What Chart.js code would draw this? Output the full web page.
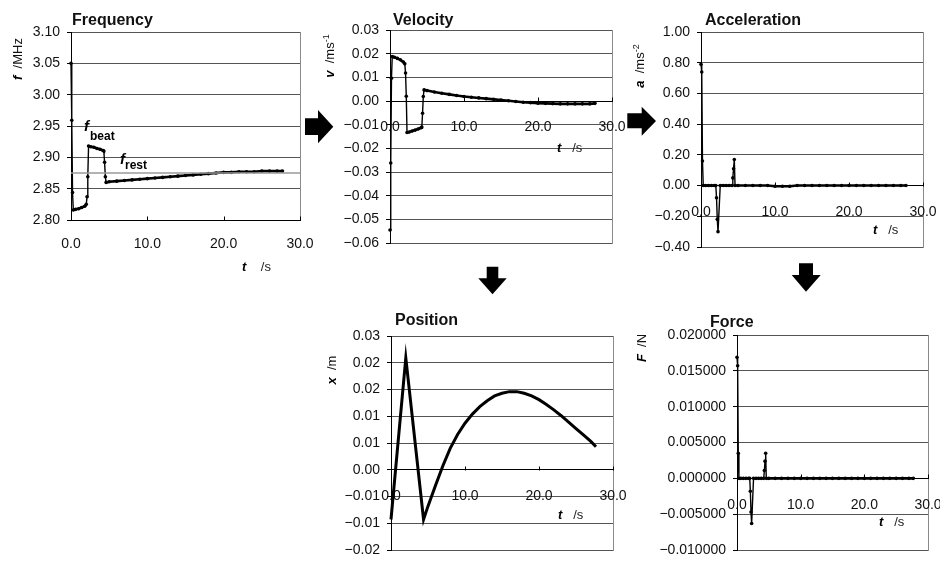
<!DOCTYPE html>
<html><head><meta charset="utf-8">
<script src="https://cdn.jsdelivr.net/npm/chart.js@4.4.1/dist/chart.umd.min.js"></script>
<style>
html,body{margin:0;padding:0;background:#fff;}
#wrap{position:relative;width:940px;height:561px;overflow:hidden;font-family:"Liberation Sans",Arial,sans-serif;color:#111;}
canvas{position:absolute;left:0;top:0;}
.title{position:absolute;font-weight:bold;font-size:16px;line-height:16px;white-space:nowrap;}
.ytitle{position:absolute;font-size:13px;line-height:14px;white-space:nowrap;transform:translate(-50%,-50%) rotate(-90deg);}
.xtitle{position:absolute;font-size:13px;line-height:14px;white-space:nowrap;color:#222;}
.v{font-weight:bold;font-style:italic;color:#000;}
sup{font-size:9px;vertical-align:5px;line-height:0;}
.ann{position:absolute;white-space:nowrap;color:#000;}
</style></head><body><div id="wrap">
<canvas id="cFreq" width="940" height="561"></canvas>
<canvas id="cVel" width="940" height="561"></canvas>
<canvas id="cAcc" width="940" height="561"></canvas>
<canvas id="cPos" width="940" height="561"></canvas>
<canvas id="cForce" width="940" height="561"></canvas>

<svg width="940" height="561" style="position:absolute;left:0;top:0">
<polygon fill="#000" points="305,118.3 318,118.3 318,110 333.3,126.7 318,143.3 318,135 305,135"/>
<polygon fill="#000" points="627.3,113.3 641.7,113.3 641.7,106.7 656,121 641.7,135.7 641.7,128.3 627.3,128.3"/>
<polygon fill="#000" points="486.7,266.7 498.3,266.7 498.3,278.3 506.7,278.3 492.5,294.3 478.3,278.3 486.7,278.3"/>
<polygon fill="#000" points="799,263.3 813,263.3 813,275 820.7,275 806,291.7 791.7,275 799,275"/>
</svg>

<div class="title" style="left:72px;top:12px">Frequency</div>
<div class="title" style="left:393px;top:12px">Velocity</div>
<div class="title" style="left:705px;top:12px">Acceleration</div>
<div class="title" style="left:395px;top:312px">Position</div>
<div class="title" style="left:710px;top:314px">Force</div>

<div class="ytitle" style="left:18px;top:59px"><span class="v">f</span>&nbsp;&nbsp;/MHz</div>
<div class="ytitle" style="left:330px;top:56px"><span class="v">v</span>&nbsp;&nbsp;/ms<sup>-1</sup></div>
<div class="ytitle" style="left:640px;top:66px"><span class="v">a</span>&nbsp;&nbsp;/ms<sup>-2</sup></div>
<div class="ytitle" style="left:332px;top:370px"><span class="v">x</span>&nbsp;&nbsp;/m</div>
<div class="ytitle" style="left:642px;top:348px"><span class="v">F</span>&nbsp;&nbsp;/N</div>

<div class="xtitle" style="left:242px;top:260px"><span class="v">t</span>&nbsp;&nbsp;&nbsp;&nbsp;/s</div>
<div class="xtitle" style="left:557px;top:141px"><span class="v">t</span>&nbsp;&nbsp;&nbsp;/s</div>
<div class="xtitle" style="left:873px;top:223px"><span class="v">t</span>&nbsp;&nbsp;&nbsp;/s</div>
<div class="xtitle" style="left:558px;top:508px"><span class="v">t</span>&nbsp;&nbsp;&nbsp;/s</div>
<div class="xtitle" style="left:879px;top:515px"><span class="v">t</span>&nbsp;&nbsp;&nbsp;/s</div>

<div class="ann" style="left:84px;top:118px;font:italic bold 15px 'Liberation Sans',Arial,sans-serif;line-height:15px">f</div>
<div class="ann" style="left:90px;top:130px;font:bold 12px 'Liberation Sans',Arial,sans-serif;line-height:12px">beat</div>
<div class="ann" style="left:120px;top:151px;font:italic bold 15px 'Liberation Sans',Arial,sans-serif;line-height:15px">f</div>
<div class="ann" style="left:125px;top:159px;font:bold 12px 'Liberation Sans',Arial,sans-serif;line-height:12px">rest</div>
</div>
<script>
// ---------------- data ----------------
const timeS = [0.0,0.1,0.2,0.3,0.6,1.0,1.4,1.8,2.0,2.1,2.2,2.3,2.6,3.0,3.4,3.8,4.2,4.3,4.4,4.5,4.6,5.0,6.0,7.0,8.0,9.0,10.0,11.0,12.0,13.0,14.0,15.0,16.0,17.0,18.0,19.0,20.0,21.0,22.0,23.0,24.0,25.0,26.0,27.0,27.7];
const freqMHz = [3.050,2.959,2.844,2.816,2.817,2.818,2.820,2.822,2.825,2.837,2.869,2.918,2.917,2.916,2.914,2.913,2.911,2.910,2.892,2.869,2.860,2.861,2.862,2.863,2.864,2.865,2.866,2.867,2.868,2.869,2.870,2.871,2.872,2.873,2.874,2.875,2.876,2.876,2.877,2.877,2.877,2.878,2.878,2.878,2.878];
const restTime = [0, 30];
const restFreq = [2.875, 2.875];
const velocity = [-0.0545,-0.0262,0.0096,0.0188,0.0185,0.0180,0.0174,0.0165,0.0157,0.0118,0.0020,-0.0133,-0.0131,-0.0127,-0.0123,-0.0118,-0.0113,-0.0110,-0.0052,0.0019,0.0047,0.0044,0.0038,0.0033,0.0028,0.0023,0.0019,0.0016,0.0013,0.0010,0.0007,0.0004,0.0001,-0.0002,-0.0005,-0.0007,-0.0009,-0.0010,-0.0011,-0.0012,-0.0012,-0.0012,-0.0012,-0.0012,-0.0010];
const accel = [0.79,0.74,0.16,0.00,0.00,0.00,0.00,0.00,0.00,-0.08,-0.22,-0.30,0.00,0.00,0.00,0.00,0.00,0.05,0.11,0.17,0.00,0.00,0.00,0.00,0.00,0.00,-0.004,-0.004,-0.004,0.00,0.00,0.00,0.00,0.00,0.00,0.00,0.00,0.00,0.00,0.00,0.00,0.00,0.00,0.00,0.00];
const force = [0.0169,0.0157,0.0035,0,0,0,0,0,0,-0.0018,-0.0047,-0.0063,0,0,0,0,0,0.0011,0.0024,0.0035,0,0,0,0,0,0,0,0,0,0,0,0,0,0,0,0,0,0,0,0,0,0,0,0,0];
const posTime = [0.0,2.0,4.4,5.0,6.0,7.0,8.0,9.0,10.0,11.0,12.0,13.0,14.0,15.0,16.0,17.0,18.0,19.0,20.0,21.0,22.0,23.0,24.0,25.0,26.0,27.0,27.7];
const posM = [-0.0093,0.0209,-0.0093,-0.0068,-0.0030,0.0007,0.0040,0.0066,0.0087,0.0104,0.0118,0.0129,0.0138,0.0143,0.0146,0.0146,0.0143,0.0138,0.0131,0.0122,0.0112,0.0101,0.0089,0.0077,0.0065,0.0053,0.0043];

const xTickLabels = ["0.0","10.0","20.0","30.0"];
const freqTicks = ["2.80","2.85","2.90","2.95","3.00","3.05","3.10"];
const velTicks = ["\u22120.06","\u22120.05","\u22120.04","\u22120.03","\u22120.02","\u22120.01","0.00","0.01","0.02","0.03"];
const accTicks = ["\u22120.40","\u22120.20","0.00","0.20","0.40","0.60","0.80","1.00"];
const posTicks = ["\u22120.02","\u22120.01","\u22120.01","0.00","0.01","0.01","0.02","0.02","0.03"];
const forceTicks = ["\u22120.010000","\u22120.005000","0.000000","0.005000","0.010000","0.015000","0.020000"];

// ---------------- helpers ----------------
Chart.defaults.font.family = "'Liberation Sans', Arial, sans-serif";
Chart.defaults.font.size = 14;
Chart.defaults.color = '#111';

const YW = 110;   // fixed y-axis box width
const XH = 40;    // fixed x-axis box height

const framePlugin = {
  id: 'framePlugin',
  beforeDraw(chart) {
    const {ctx, chartArea: a} = chart;
    ctx.save();
    ctx.strokeStyle = '#8a8a8a'; ctx.lineWidth = 1;
    ctx.strokeRect(Math.round(a.left) + 0.5, Math.round(a.top) + 0.5, Math.round(a.right - a.left), Math.round(a.bottom - a.top));
    ctx.restore();
  },
  afterDatasetsDraw(chart, args, opts) {
    const {ctx} = chart;
    const xs = chart.scales.x, ys = chart.scales.y;
    const y0 = Math.round(ys.getPixelForValue(opts.axisAt)) + 0.5;
    ctx.save();
    ctx.strokeStyle = '#000'; ctx.lineWidth = 1;
    ctx.beginPath();
    xs.ticks.forEach(t => {
      const px = Math.round(xs.getPixelForValue(t.value)) + 0.5;
      ctx.moveTo(px, y0); ctx.lineTo(px, y0 - 4);
    });
    ctx.stroke();
    ctx.restore();
  }
};

function yScale(min, step, labels) {
  return {
    type: 'linear', position: 'left', min: min, max: min + step * (labels.length - 1),
    afterBuildTicks: s => { s.ticks = labels.map((_, i) => ({value: min + i * step})); },
    ticks: { callback: (v, i) => labels[i], padding: 7, autoSkip: false, color: '#111', font: {size: 14} },
    grid: { color: '#555', lineWidth: 1, drawTicks: true, tickLength: 4, tickColor: '#000' },
    border: { display: true, color: '#000', width: 1 },
    afterFit: s => { s.width = YW; s.paddingTop = 0; s.paddingBottom = 0; s.paddingLeft = 0; s.paddingRight = 0; }
  };
}
function xScale(position, pad) {
  return {
    type: 'linear', position: position, min: 0, max: 30,
    afterBuildTicks: s => { s.ticks = xTickLabels.map((_, i) => ({value: i * 10})); },
    ticks: { callback: (v, i) => xTickLabels[i], padding: pad, autoSkip: false, maxRotation: 0, color: '#111', font: {size: 14} },
    grid: { display: true, drawOnChartArea: false, drawTicks: false },
    border: { display: true, color: '#000', width: 1 },
    afterFit: s => { s.height = (position === 'bottom') ? XH : 0; s.paddingLeft = 0; s.paddingRight = 0; s.paddingTop = 0; s.paddingBottom = 0; }
  };
}
// steep (jump) segments are drawn thinner, flat runs of dense samples thicker
const segStyle = { borderWidth: c => (Math.abs(c.p1.y - c.p0.y) > 2.5 * Math.abs(c.p1.x - c.p0.x) + 3) ? 1.4 : 2.6 };
function series(xs, ys, extra) {
  return Object.assign({
    data: xs.map((x, i) => ({x: x, y: ys[i]})),
    showLine: true, borderColor: '#000', backgroundColor: '#000', borderWidth: 2.6,
    pointRadius: 1.8, pointBorderWidth: 0, pointHoverRadius: 0, clip: false, tension: 0,
    segment: segStyle
  }, extra || {});
}
function makeChart(id, box, datasets, yS, xPos, xPad, axisAt) {
  const xh = (xPos === 'bottom') ? XH : 0;
  return new Chart(document.getElementById(id), {
    type: 'scatter',
    data: { datasets: datasets },
    plugins: [framePlugin],
    options: {
      responsive: false, maintainAspectRatio: false, animation: false, devicePixelRatio: 1, events: [],
      layout: { padding: { left: box.L - YW, top: box.T, right: 940 - box.R, bottom: 561 - box.B - xh } },
      plugins: { legend: {display: false}, tooltip: {enabled: false}, framePlugin: {axisAt: axisAt} },
      scales: { x: xScale(xPos, xPad), y: yS }
    }
  });
}

// ---------------- charts ----------------
makeChart('cFreq', {L: 71, R: 300, T: 32, B: 220},
  [series(restTime, restFreq, {borderColor: '#9a9a9a', borderWidth: 1.5, pointRadius: 0, segment: {}}),
   series(timeS, freqMHz)],
  yScale(2.80, 0.05, freqTicks), 'bottom', 16, 2.80);

makeChart('cVel', {L: 390, R: 612, T: 30, B: 243},
  [series(timeS, velocity)],
  yScale(-0.06, 0.01, velTicks), {y: 0}, 18, 0);

makeChart('cAcc', {L: 701, R: 923, T: 32, B: 247},
  [series(timeS, accel)],
  yScale(-0.40, 0.20, accTicks), {y: 0}, 18, 0);

makeChart('cPos', {L: 391, R: 613, T: 336, B: 550},
  [series(posTime, posM, {borderWidth: 3, pointRadius: 0, segment: {}})],
  yScale(-0.015, 0.005, posTicks), {y: 0}, 18, 0);

makeChart('cForce', {L: 737, R: 928, T: 335, B: 550},
  [series(timeS, force)],
  yScale(-0.010, 0.005, forceTicks), {y: 0}, 18, 0);
</script>
</body></html>
